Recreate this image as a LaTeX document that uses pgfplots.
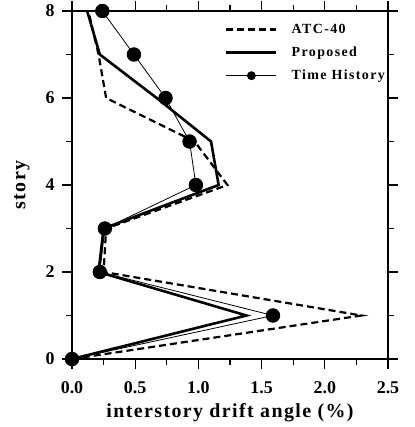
\documentclass[border=0pt]{standalone}
\usepackage{fontspec}
\setmainfont{Liberation Serif}
\newfontfamily\spacedfont{Liberation Serif}[LetterSpace=7]
\newfontfamily\legfont{Liberation Serif}[LetterSpace=10]
\usepackage{pgfplots}
\pgfplotsset{compat=1.18}
\usetikzlibrary{calc}
\pgfplotsset{
  linelegend/.style={legend image code/.code={\draw[##1] plot coordinates {(0bp,0bp)(50bp,0bp)};}},
  thlegend/.style={legend image code/.code={\draw[##1, mark repeat=2, mark phase=2, mark size=4bp] plot coordinates {(0bp,0bp)(25bp,0bp)(50bp,0bp)};}},
}
\begin{document}
\begin{tikzpicture}
\begin{axis}[
  scale only axis, width=316bp, height=348bp,
  xmin=0, xmax=2.5, ymin=0, ymax=8,
  xtick={0,0.5,...,2.5}, ytick={0,2,4,6,8},
  minor x tick num=1, minor y tick num=1,
  tick align=outside, major tick length=10bp, minor tick length=6bp,
  axis line style={line width=1.6bp}, every tick/.style={line width=1.3bp, black},
  /pgf/number format/assume math mode=true,
  tick label style={font=\fontsize{18}{18}\selectfont\bfseries},
  xticklabel style={yshift=-9bp, /pgf/number format/.cd, fixed, fixed zerofill, precision=1},
  yticklabel style={xshift=-4bp},
  xlabel={\spacedfont\bfseries interstory drift angle (\%)},
  ylabel={\spacedfont\bfseries story},
  label style={font=\fontsize{20}{20}\selectfont},
  xlabel style={yshift=-3bp},
  ylabel style={yshift=9bp},
  legend style={draw=none, fill=none, at={(rel axis cs:1,1)}, anchor=north east,
    yshift=-9bp, xshift=2bp,
    font=\fontsize{14}{14}\selectfont\legfont\bfseries, row sep=8bp, column sep=12bp},
  legend cell align=left,
]
\addplot[black, line width=2.2bp, dash pattern=on 7bp off 4bp, linelegend] coordinates {
(0,0) (2.29,1) (0.25,2) (0.27,3) (1.23,4) (0.97,5) (0.27,6) (0.21,7) (0.13,8)};
\addlegendentry{ATC-40}
\addplot[black, line width=2.6bp, linelegend] coordinates {
(0,0) (1.38,1) (0.21,2) (0.25,3) (1.16,4) (1.10,5) (0.67,6) (0.22,7) (0.12,8)};
\addlegendentry{Proposed}
\addplot[black, line width=0.8bp, mark=*, mark size=6.8bp, thlegend] coordinates {
(0,0) (1.59,1) (0.22,2) (0.26,3) (0.98,4) (0.93,5) (0.74,6) (0.49,7) (0.24,8)};
\addlegendentry{Time History}
\end{axis}
\pgfresetboundingbox
\path[use as bounding box] ($(current axis.south west)+(-72bp,-68bp)$) rectangle ($(current axis.north east)+(27bp,11bp)$);
\end{tikzpicture}
\end{document}
